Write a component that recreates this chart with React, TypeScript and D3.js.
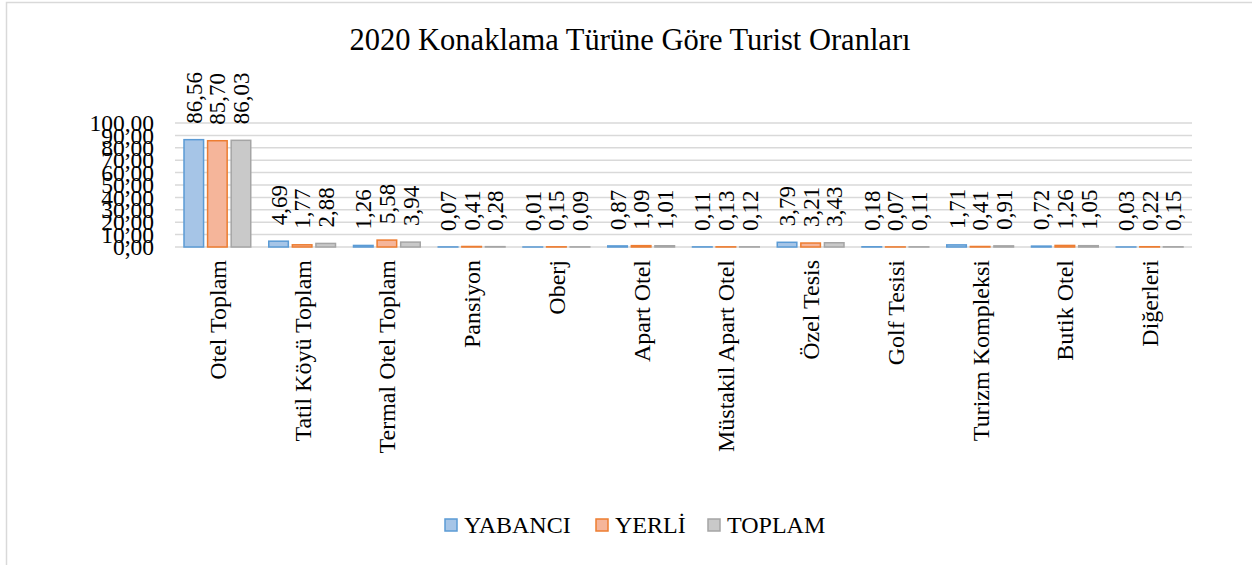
import React from "react";
import { scaleBand, scaleLinear } from "d3";

const categories = [
  "Otel Toplam",
  "Tatil Köyü Toplam",
  "Termal Otel Toplam",
  "Pansiyon",
  "Oberj",
  "Apart Otel",
  "Müstakil Apart Otel",
  "Özel Tesis",
  "Golf Tesisi",
  "Turizm Kompleksi",
  "Butik Otel",
  "Diğerleri",
];

const seriesNames = ["YABANCI", "YERLİ", "TOPLAM"];

const yabanci = [86.56, 4.69, 1.26, 0.07, 0.01, 0.87, 0.11, 3.79, 0.18, 1.71, 0.72, 0.03];
const yerli = [85.7, 1.77, 5.58, 0.41, 0.15, 1.09, 0.13, 3.21, 0.07, 0.41, 1.26, 0.22];
const toplam = [86.03, 2.88, 3.94, 0.28, 0.09, 1.01, 0.12, 3.43, 0.11, 0.91, 1.05, 0.15];

const yTicks = [0, 10, 20, 30, 40, 50, 60, 70, 80, 90, 100];

const fills = ["#a6c5e7", "#f5b59a", "#c9c9c9"];
const strokes = ["#5b9bd5", "#ed7d31", "#a5a5a5"];

const fmt = (v: number) => v.toFixed(2).replace(".", ",");

const font = "'Liberation Serif', 'Times New Roman', serif";

const App = () => {
  const width = 1252;
  const height = 565;

  const plot = { left: 175, right: 1192, top: 123, bottom: 247 };

  const values = [yabanci, yerli, toplam];

  const x0 = scaleBand<string>()
    .domain(categories)
    .range([plot.left, plot.right])
    .padding(0);

  const x1 = scaleBand<string>()
    .domain(seriesNames)
    .range([9, x0.bandwidth() - 9])
    .paddingInner(0.17)
    .paddingOuter(0);

  const y = scaleLinear().domain([0, 100]).range([plot.bottom, plot.top]);

  const legendItems = [
    { name: seriesNames[0], x: 445 },
    { name: seriesNames[1], x: 596 },
    { name: seriesNames[2], x: 708 },
  ];

  return (
    <svg
      width={width}
      height={height}
      style={{ position: "fixed", left: 0, top: 0, background: "#fff" }}
    >
      <rect x={6.5} y={2.5} width={1400} height={700} fill="#fff" stroke="#d9d9d9" strokeWidth={1.5} />

      <text x={630} y={50} textAnchor="middle" fontSize={30.5} fill="#000" fontFamily={font}>
        2020 Konaklama Türüne Göre Turist Oranları
      </text>

      {/* gridlines */}
      {yTicks.map((t) => (
        <line
          key={t}
          x1={plot.left}
          x2={plot.right}
          y1={y(t)}
          y2={y(t)}
          stroke="#d9d9d9"
          strokeWidth={1.5}
        />
      ))}

      {/* y tick labels */}
      {yTicks.map((t) => (
        <text key={t} x={154} y={y(t)} dy="0.35em" textAnchor="end" fontSize={23.5} fill="#000" fontFamily={font}>
          {fmt(t)}
        </text>
      ))}

      {/* bars */}
      {categories.map((c, i) => (
        <g key={c} transform={`translate(${x0(c)},0)`}>
          {seriesNames.map((s, k) => {
            const v = values[k][i];
            const bx = x1(s) as number;
            return (
              <rect
                key={s}
                x={bx}
                y={y(v)}
                width={x1.bandwidth()}
                height={plot.bottom - y(v)}
                fill={fills[k]}
                stroke={strokes[k]}
                strokeWidth={1.5}
              />
            );
          })}
          {seriesNames.map((s, k) => {
            const v = values[k][i];
            const cx = (x1(s) as number) + x1.bandwidth() / 2;
            const ty = y(v) - 16;
            return (
              <text
                key={s}
                transform={`translate(${cx},${ty}) rotate(-90)`}
                dy="0.35em"
                fontSize={23}
                fill="#000"
                fontFamily={font}
              >
                {fmt(v)}
              </text>
            );
          })}
        </g>
      ))}

      {/* category labels */}
      {categories.map((c) => {
        const cx = (x0(c) as number) + x0.bandwidth() / 2;
        return (
          <text
            key={c}
            transform={`translate(${cx},${plot.bottom + 13}) rotate(-90)`}
            dy="0.35em"
            textAnchor="end"
            fontSize={24}
            fill="#000"
            fontFamily={font}
          >
            {c}
          </text>
        );
      })}

      {/* legend */}
      {legendItems.map((d, k) => (
        <g key={d.name}>
          <rect x={d.x} y={519} width={12} height={12} fill={fills[k]} stroke={strokes[k]} strokeWidth={1.5} />
          <text x={d.x + 19} y={525} dy="0.35em" fontSize={24} fill="#000" fontFamily={font}>
            {d.name}
          </text>
        </g>
      ))}
    </svg>
  );
};

export default App;
